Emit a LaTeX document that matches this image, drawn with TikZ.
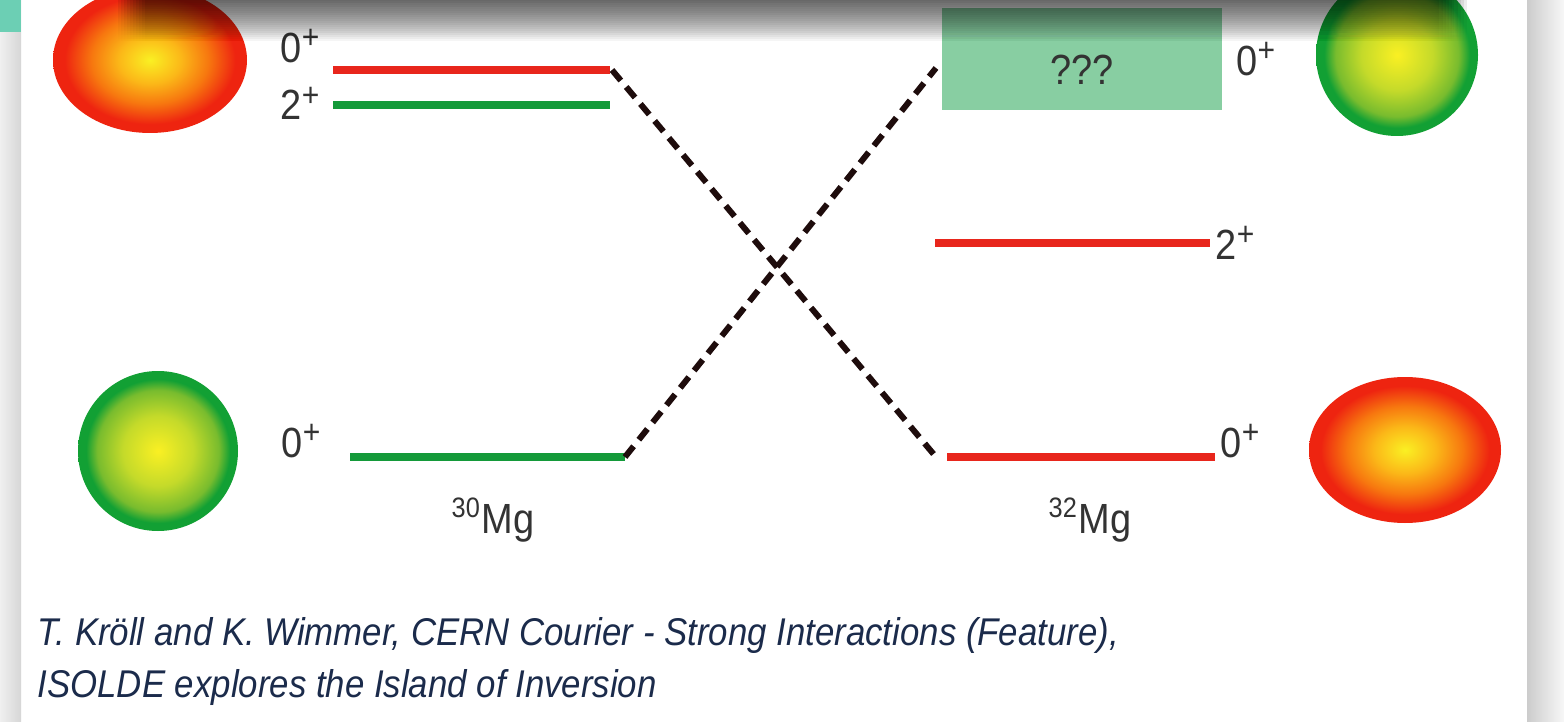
\documentclass[tikz,border=0pt]{standalone}
\usepackage{fontspec}
\setmainfont{Liberation Sans}
\newfontfamily\narrowfont[FakeStretch=0.9]{Liberation Sans}
\usetikzlibrary{positioning,fadings}

\definecolor{lvlred}{HTML}{E8261C}
\definecolor{lvlgreen}{HTML}{149A3A}
\definecolor{boxgreen}{HTML}{88CEA2}
\definecolor{ballyellow}{HTML}{FAF023}
\definecolor{ballgold}{HTML}{FBB818}
\definecolor{ballorange}{HTML}{F7780F}
\definecolor{ballred}{HTML}{EE2410}
\definecolor{balllime}{HTML}{C4DA2A}
\definecolor{ballmid}{HTML}{78BC2E}
\definecolor{ballgreen}{HTML}{12A034}
\definecolor{captionblue}{HTML}{1B2B4B}
\definecolor{tabteal}{HTML}{6CCFB4}
\definecolor{linkdark}{HTML}{1E0C0C}

% deformed (red) and spherical (green) nuclei
\pgfdeclareradialshading{redball}{\pgfpoint{0bp}{0bp}}{color(0bp)=(ballyellow); color(8bp)=(ballgold); color(15bp)=(ballorange); color(22bp)=(ballred); color(25bp)=(ballred); color(50bp)=(ballred)}
\pgfdeclareradialshading{greenball}{\pgfpoint{0bp}{0bp}}{color(0bp)=(ballyellow); color(11bp)=(balllime); color(19bp)=(ballmid); color(22.5bp)=(ballgreen); color(25bp)=(ballgreen); color(50bp)=(ballgreen)}

% spin-parity with a large superscript sign
\newcommand\jpi[1]{#1\raisebox{0.62ex}{\fontsize{9.5}{10}\selectfont +}}

\begin{document}
\begin{tikzpicture}[
  redlvl/.style={draw=lvlred, line width=2.3pt},
  greenlvl/.style={draw=lvlgreen, line width=2.3pt},
  dashlink/.style={draw=linkdark, line width=1.7pt, dash pattern=on 3.9pt off 2.4pt},
  spin/.style={font={\narrowfont\fontsize{12}{14}\selectfont}, text=black!80, inner sep=0pt},
  qbox/.style={fill=boxgreen, minimum width=2.8cm, minimum height=1.02cm, inner sep=0pt},
  caption/.style={font={\narrowfont\itshape\fontsize{11}{13}\selectfont}, text=captionblue, inner sep=0pt, anchor=base west}
]
\useasboundingbox (0,0) rectangle (15.64,7.21);
\fill[white] (0,0) rectangle (15.64,7.21);

% slide edges
\shade[left color=gray!12, right color=gray!32] (0,0) rectangle (0.21,7.21);
\shade[left color=gray!40, right color=gray!6] (15.27,0) rectangle (15.64,7.21);
\fill[tabteal] (0,6.89) rectangle (0.21,7.21);

% nuclei
\shade[shading=redball] (1.50,6.61) ellipse [x radius=0.97, y radius=0.73];
\shade[shading=greenball] (1.58,2.70) circle [radius=0.80];
\shade[shading=greenball] (13.97,6.66) circle [radius=0.81];
\shade[shading=redball] (14.05,2.71) ellipse [x radius=0.96, y radius=0.73];

% level ends
\coordinate (m30x0w) at (3.33,6.51);
\coordinate (m30x0e) at (6.10,6.51);
\coordinate (m30twow) at (3.33,6.16);
\coordinate (m30twoe) at (6.10,6.16);
\coordinate (m30gsw) at (3.50,2.64);
\coordinate (m30gse) at (6.25,2.64);
\coordinate (m32twow) at (9.35,4.78);
\coordinate (m32twoe) at (12.10,4.78);
\coordinate (m32gsw) at (9.47,2.64);
\coordinate (m32gse) at (12.15,2.64);
\coordinate (m32x0w) at (9.36,6.53);

\node[qbox] (m32x0) at (10.82,6.62) {};
\node[spin] (qmark) at (10.82,6.51) {???};

\draw[redlvl] (m30x0w) -- (m30x0e);
\draw[greenlvl] (m30twow) -- (m30twoe);
\draw[greenlvl] (m30gsw) -- (m30gse);
\draw[redlvl] (m32twow) -- (m32twoe);
\draw[redlvl] (m32gsw) -- (m32gse);

% shape coexistence crossing
\draw[dashlink] ([xshift=0.02cm]m30x0e) -- ([xshift=-0.11cm]m32gsw);
\draw[dashlink] (m30gse) -- (m32x0w);

% spins
\node[spin, above left=0.08cm and 0.13cm of m30x0w, anchor=base east] (s30x0) {\jpi{0}};
\node[spin, below left=0.15cm and 0.13cm of m30twow, anchor=base east] (s30two) {\jpi{2}};
\node[spin, left=0.29cm of m30gsw, anchor=base east] (s30gs) {\jpi{0}};
\node[spin, right=0.13cm of m32x0.east] (s32x0) {\jpi{0}};
\node[spin, right=0.05cm of m32twoe] (s32two) {\jpi{2}};
\node[spin, right=0.05cm of m32gse, anchor=base west] (s32gs) {\jpi{0}};

\node[spin, anchor=base] (m30name) at (4.93,1.88) {\textsuperscript{30}Mg};
\node[spin, anchor=base] (m32name) at (10.90,1.88) {\textsuperscript{32}Mg};

\node[caption] (cite1) at (0.37,0.76) {T. Kröll and K. Wimmer, CERN Courier - Strong Interactions (Feature),};
\node[caption] (cite2) at (0.37,0.24) {ISOLDE explores the Island of Inversion};

% shadow along the top edge, layered so that it thins out at both ends
\foreach \k in {0,...,9}
  \fill[black, path fading=south, fill opacity=0.082] (1.45-0.03*\k,6.80) rectangle (14.40+0.03*\k,7.21);
\end{tikzpicture}
\end{document}
